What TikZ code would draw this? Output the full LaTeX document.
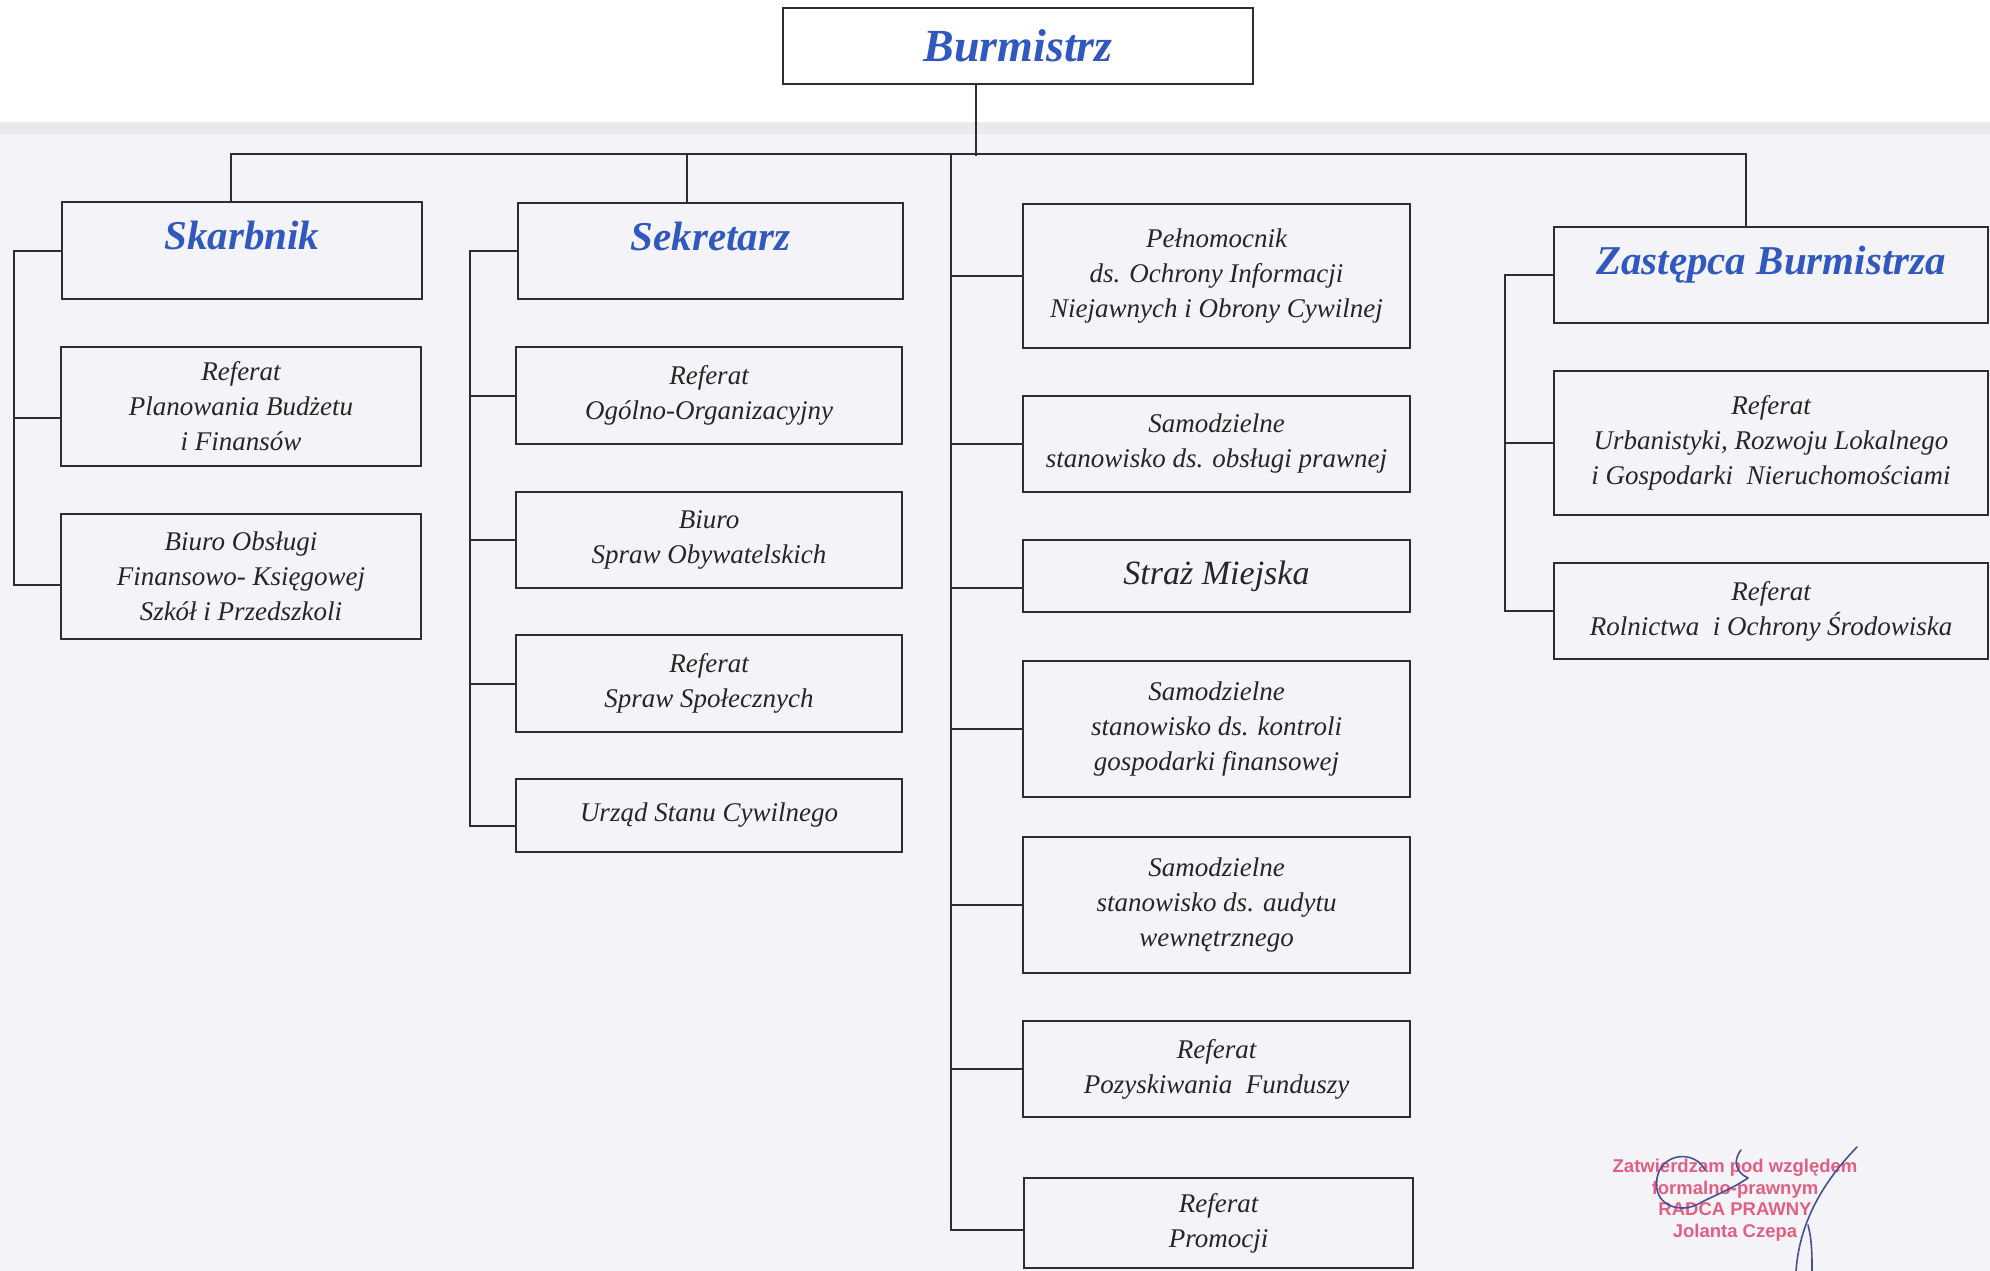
\documentclass[tikz,border=0pt]{standalone}
\usepackage{fontspec}
\setmainfont{Liberation Serif}
\newfontfamily\stampfont{Liberation Sans}
\definecolor{headblue}{RGB}{48,88,190}
\definecolor{linec}{RGB}{45,45,50}
\definecolor{bgc}{RGB}{244,244,248}
\definecolor{bandc}{RGB}{236,232,238}
\definecolor{stampred}{RGB}{225,95,130}
\definecolor{sigblue}{RGB}{70,80,150}
\tikzset{
  box/.style={draw=linec, line width=2pt, rectangle, inner sep=0pt, align=center,
    font=\fontsize{27}{35}\selectfont\itshape, text=black!85},
  head/.style={box, font=\fontsize{41}{46}\selectfont\bfseries\itshape, text=headblue,
    text height=28pt, text depth=30pt},
  conn/.style={draw=linec, line width=2pt},
  stamp/.style={align=center, inner sep=0pt, text=stampred,
    font=\stampfont\bfseries\fontsize{18.5}{21.5}\selectfont},
  sig/.style={draw=sigblue, line width=1.6pt, line cap=round}
}
\begin{document}
\begin{tikzpicture}[x=1pt,y=-1pt]
\useasboundingbox (0,0) rectangle (1990,1271);
\fill[white] (0,0) rectangle (1990,1271);
\fill[bgc] (0,132) rectangle (1990,1271);
\fill[bandc] (0,122) rectangle (1990,134);

% boxes
\node[head, font=\fontsize{46}{50}\selectfont\bfseries\itshape, text height=31pt, text depth=0pt, minimum width=470pt, minimum height=76pt] (burm) at (1018,46) {Burmistrz};

\node[head, minimum width=360pt, minimum height=97pt] (skar) at (242,250.5) {Skarbnik};
\node[box, minimum width=360pt, minimum height=119pt] (plan) at (241,406.5) {Referat\\Planowania Budżetu\\i Finansów};
\node[box, minimum width=360pt, minimum height=125pt] (bfin) at (241,576.5) {Biuro Obsługi\\Finansowo- Księgowej\\Szkół i Przedszkoli};

\node[head, minimum width=385pt, minimum height=96pt] (sekr) at (710.5,251) {Sekretarz};
\node[box, minimum width=386pt, minimum height=97pt] (ogol) at (709,395.5) {Referat\\Ogólno-Organizacyjny};
\node[box, minimum width=386pt, minimum height=96pt] (obyw) at (709,540) {Biuro\\Spraw Obywatelskich};
\node[box, minimum width=386pt, minimum height=97pt] (spol) at (709,683.5) {Referat\\Spraw Społecznych};
\node[box, minimum width=386pt, minimum height=73pt] (usc) at (709,815.5) {Urząd Stanu Cywilnego};

\node[box, minimum width=387pt, minimum height=144pt] (peln) at (1216.5,276) {Pełnomocnik\\ds. Ochrony Informacji\\Niejawnych i Obrony Cywilnej};
\node[box, minimum width=387pt, minimum height=96pt] (praw) at (1216.5,444) {Samodzielne\\stanowisko ds. obsługi prawnej};
\node[box, font=\fontsize{34}{38}\selectfont\itshape, minimum width=387pt, minimum height=72pt] (straz) at (1216.5,576) {Straż Miejska};
\node[box, minimum width=387pt, minimum height=136pt] (kontr) at (1216.5,729) {Samodzielne\\stanowisko ds. kontroli\\gospodarki finansowej};
\node[box, minimum width=387pt, minimum height=136pt] (audyt) at (1216.5,905) {Samodzielne\\stanowisko ds. audytu\\wewnętrznego};
\node[box, minimum width=387pt, minimum height=96pt] (pozysk) at (1216.5,1069) {Referat\\Pozyskiwania\ \ Funduszy};
\node[box, minimum width=389pt, minimum height=90pt] (promo) at (1218.5,1223) {Referat\\Promocji};

\node[head, minimum width=434pt, minimum height=96pt] (zast) at (1771,275) {Zastępca Burmistrza};
\node[box, minimum width=434pt, minimum height=144pt] (urban) at (1771,443) {Referat\\Urbanistyki, Rozwoju Lokalnego\\i Gospodarki\ \ Nieruchomościami};
\node[box, minimum width=434pt, minimum height=96pt] (roln) at (1771,611) {Referat\\Rolnictwa\ \ i Ochrony Środowiska};

% bus coordinates
\coordinate (cbus) at (951,155);
\coordinate (skbus) at (14,0);
\coordinate (sebus) at (470,0);
\coordinate (zabus) at (1505,0);

% top connectors
\draw[conn] ([xshift=-42pt]burm.south) -- ++(0,71);
\draw[conn] ([xshift=-11pt]skar.north) -- ++(0,-47) -| ([xshift=-25pt]zast.north);
\draw[conn] ([xshift=-23.5pt]sekr.north) -- ++(0,-48);

% central column
\draw[conn] (cbus) |- ([yshift=-7pt]promo.west);
\foreach \n in {peln,praw,kontr,audyt,pozysk}{
  \draw[conn] (\n.west) -- (\n.west -| cbus);
}
\draw[conn] ([yshift=-12pt]straz.west) -- ([yshift=-12pt]straz.west -| cbus);

% Skarbnik column
\draw[conn] (skar.west) -- (skar.west -| skbus) |- ([yshift=-8.5pt]bfin.west);
\draw[conn] ([yshift=-11.5pt]plan.west) -- ([yshift=-11.5pt]plan.west -| skbus);

% Sekretarz column
\draw[conn] (sekr.west) -- (sekr.west -| sebus) |- ([yshift=-10pt]usc.west);
\foreach \n in {ogol,obyw,spol}{
  \draw[conn] (\n.west) -- (\n.west -| sebus);
}

% Zastepca column
\draw[conn] (zast.west) -- (zast.west -| zabus) |- (roln.west);
\draw[conn] (urban.west) -- (urban.west -| zabus);

% stamp
\node[stamp] (stamp) at (1735,1200) {Zatwierdzam pod względem\\formalno-prawnym\\RADCA PRAWNY\\Jolanta Czepa};

% signature
\draw[sig] (1705,1170) .. controls (1695,1150) and (1662,1152) .. (1657,1178)
  .. controls (1652,1205) and (1680,1215) .. (1700,1203)
  .. controls (1715,1195) and (1730,1190) .. (1748,1178);
\draw[sig] (1741,1150) .. controls (1733,1160) and (1735,1172) .. (1748,1178);
\draw[sig] (1857,1147) .. controls (1830,1175) and (1800,1215) .. (1796,1271);
\draw[sig] (1808,1225) .. controls (1812,1240) and (1812,1255) .. (1812,1271);
\end{tikzpicture}
\end{document}
